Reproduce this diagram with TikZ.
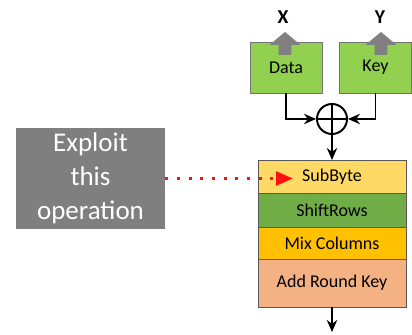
\documentclass[tikz,border=0pt]{standalone}
\usepackage{fontspec}
\setmainfont{Carlito}
\usetikzlibrary{positioning,arrows.meta}

\definecolor{srcgreen}{HTML}{92D050}
\definecolor{subfill}{HTML}{FFD966}
\definecolor{shiftfill}{HTML}{70AD47}
\definecolor{mixfill}{HTML}{FFC000}
\definecolor{addfill}{HTML}{F4B183}
\definecolor{leakgray}{HTML}{808080}
\definecolor{notegray}{HTML}{7F7F7F}
\definecolor{probered}{HTML}{FF1010}

\tikzset{
  stage/.style={draw=black!65, line width=0.5pt, outer sep=0pt, inner sep=0pt,
    minimum width=3.7cm, font=\fontsize{12.8}{14}\selectfont},
  src/.style={draw=black!55, line width=0.5pt, fill=srcgreen, minimum width=1.8cm,
    minimum height=1.275cm, font=\fontsize{12.8}{14}\selectfont},
  leak/.style={font=\fontsize{14}{16}\selectfont\bfseries},
  flow/.style={line width=1.4pt, -{Stealth[length=0.3cm,width=0.26cm]}},
  probe/.style={probered, line width=2.2pt, dash pattern=on 2.2pt off 6.1pt,
    -{Triangle[length=0.42cm,width=0.34cm]}}
}

\begin{document}
\begin{tikzpicture}
  \useasboundingbox (0,0) rectangle (10.3,8.375);

  % inputs of the round
  \node[src] (data) at (7.15,6.6875){Data};
  \node[src] (key) at (9.3875,6.6875){Key};

  % leaking values
  \foreach \ax in {7.125, 9.525}{
    \fill[leakgray, shift={(\ax,7.0)}] (-0.16,0) -- (-0.16,0.25) -- (-0.39,0.25)
      -- (0,0.575) -- (0.39,0.25) -- (0.16,0.25) -- (0.16,0) -- cycle;
  }
  \node[leak] (xlab) at (7.075,7.95){X};
  \node[leak] (ylab) at (9.5,7.95){Y};

  % key addition
  \node[draw, circle, line width=1.4pt, minimum size=0.75cm, inner sep=0pt] (xor) at (8.3,5.4){};
  \draw[line width=1.4pt] (xor.north) -- (xor.south) (xor.west) -- (xor.east);
  \draw[flow] (data.south) |- (xor.west);
  \draw[flow] (key.south) |- (xor.east);

  % round stages
  \node[stage, fill=subfill, minimum height=0.825cm] (sub) at (8.3,3.9625){SubByte};
  \node[stage, fill=shiftfill, minimum height=0.85cm, below=0pt of sub] (shift){ShiftRows};
  \node[stage, fill=mixfill, minimum height=0.8cm, below=0pt of shift] (mix){Mix Columns};
  \node[stage, fill=addfill, minimum height=1.2cm, below=0pt of mix] (add){Add Round Key};
  \draw[flow] (xor.south) -- (sub.north);
  \coordinate (outp) at (8.3,0.075);
  \draw[flow] (add.south) -- (outp);

  % attack note
  \node[fill=notegray, text=white, minimum width=3.725cm, minimum height=2.475cm,
    align=center, font=\fontsize{19.2}{24.2}\selectfont] (note) at (2.2625,3.9125)
    {Exploit\\this\\operation};
  \coordinate (hit) at (7.325,3.9125);
  \draw[probe] (note.east) -- (hit);
\end{tikzpicture}
\end{document}
